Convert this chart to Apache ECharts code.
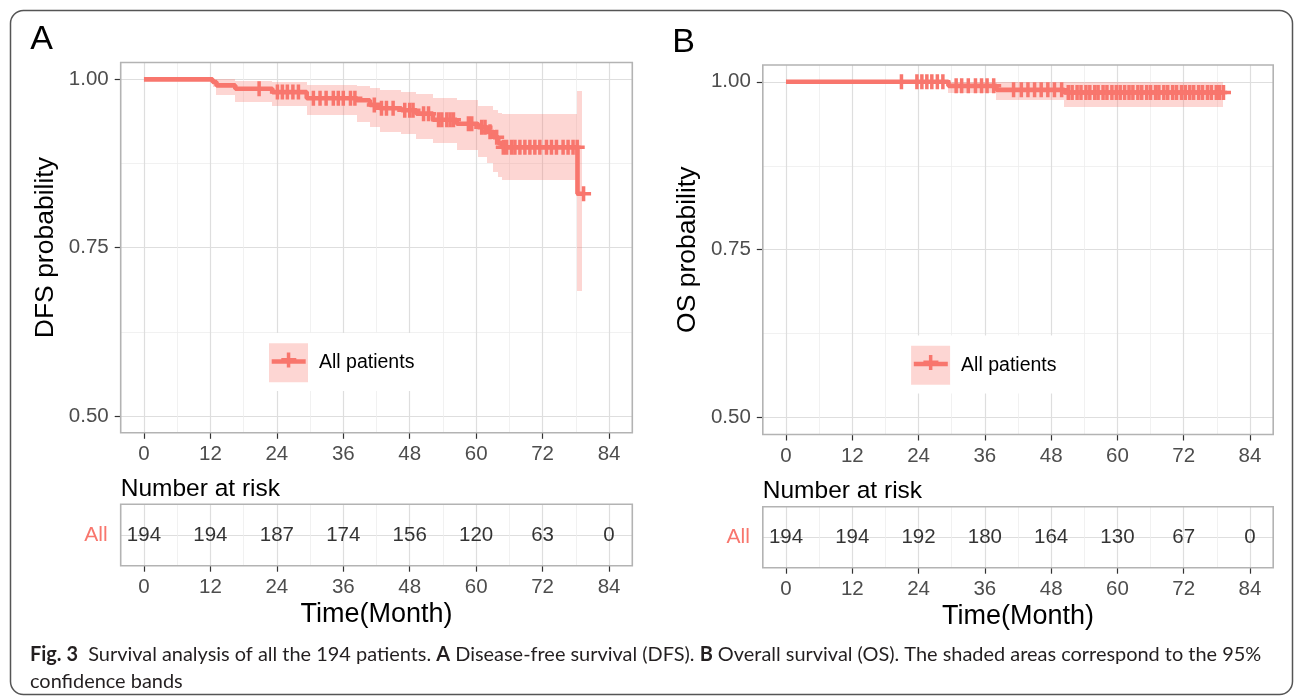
<!DOCTYPE html>
<html><head><meta charset="utf-8">
<script src="https://cdn.jsdelivr.net/npm/echarts@6/dist/echarts.min.js"></script>
<style>html,body{margin:0;padding:0;background:#fff;}#c{width:1295px;height:697px;}</style>
</head><body><div id="c"></div>
<script>
// ---------------- data ----------------
const riskTimes = [0, 12, 24, 36, 48, 60, 72, 84];
const dfsRisk = [194, 194, 187, 174, 156, 120, 63, 0];
const osRisk  = [194, 194, 192, 180, 164, 130, 67, 0];
const probTicks = [0.5, 0.75, 1.0];

// DFS Kaplan-Meier steps (time in months, survival, 95% CI)
const dfsTime  = [0, 12.4, 13.1, 16.5, 23.2, 29.4, 38.4, 40.8, 42.6, 46.5, 49.2, 52.2, 56.5, 60.3, 61.9, 63.1, 64.0, 64.7, 78.3];
const dfsSurv  = [1, 0.996, 0.991, 0.986, 0.981, 0.972, 0.969, 0.962, 0.957, 0.954, 0.949, 0.940, 0.934, 0.929, 0.922, 0.914, 0.905, 0.899, 0.830];
const dfsLower = [1, 0.988, 0.977, 0.967, 0.960, 0.947, 0.937, 0.929, 0.922, 0.919, 0.912, 0.905, 0.895, 0.885, 0.875, 0.862, 0.855, 0.851, 0.686];
const dfsUpper = [1, 1.000, 1.000, 0.997, 0.996, 0.992, 0.990, 0.987, 0.984, 0.981, 0.978, 0.972, 0.969, 0.961, 0.961, 0.955, 0.950, 0.948, 0.983];
const dfsCensor = [20.8, 24.1, 25.0, 25.9, 26.9, 27.9, 30.6, 31.8, 32.9, 34.2, 35.1, 36.0, 37.3, 38.1,
  41.6, 42.9, 43.8, 45.0, 47.1, 48.0, 48.6, 50.5, 51.4, 53.2, 53.8, 54.7, 55.3, 55.9, 58.6, 59.2,
  61.0, 61.6, 62.5, 63.7, 64.9, 65.5, 66.4, 67.0, 67.9, 68.8, 69.7, 70.6, 71.5, 72.7, 73.6, 74.5,
  75.7, 76.6, 77.5, 78.25, 79.4];
const dfsEnd = 79.4;
const dfsBandEnd = 79.1;

// OS Kaplan-Meier steps
const osTime  = [0, 29.4, 38.1, 50.4];
const osSurv  = [1, 0.994, 0.988, 0.984];
const osLower = [1, 0.983, 0.973, 0.963];
const osUpper = [1, 1.000, 1.000, 1.000];
const osCensor = [20.9, 23.7, 24.6, 25.5, 26.4, 27.4, 28.4, 30.8, 31.8, 33.0, 34.3, 35.4, 36.4, 37.6,
  41.2, 42.6, 43.8, 45.0, 46.2, 47.4, 48.6, 49.9, 51.1, 51.8, 52.7, 53.4, 54.3, 55.0, 55.9, 56.5,
  57.4, 58.1, 59.0, 59.8, 60.5, 61.3, 62.1, 62.8, 63.7, 64.4, 65.3, 66.0, 66.9, 67.5, 68.4, 69.1,
  70.0, 70.7, 71.6, 72.3, 73.1, 73.8, 74.7, 75.4, 76.3, 77.0, 77.9, 78.5, 79.2];
const osEnd = 79.2;
const osBandEnd = 79.2;

const strataLabel = 'All';
const legendLabel = 'All patients';
const riskTitle = 'Number at risk';
const xTitle = 'Time(Month)';

// ---------------- layout / style ----------------
const RED = '#F8766D';
const BAND = 'rgba(248,118,109,0.3)';
const X_MIN = -4.2, X_MAX = 88.2, Y_MIN = 0.475, Y_MAX = 1.025;
const FAM = 'Liberation Sans';
const FONT = '"Liberation Sans", Arial, sans-serif';
const panels = [
  {tag: 'A', ytitle: 'DFS probability', left: 120.7, right: 632.3, top: 62.5, bottom: 432.8, tTop: 504.3, tBottom: 565.7,
   times: dfsTime, surv: dfsSurv, lower: dfsLower, upper: dfsUpper, censor: dfsCensor, end: dfsEnd, bandEnd: dfsBandEnd, risk: dfsRisk},
  {tag: 'B', ytitle: 'OS probability', left: 762.8, right: 1273.2, top: 65.0, bottom: 434.5, tTop: 506.7, tBottom: 567.7,
   times: osTime, surv: osSurv, lower: osLower, upper: osUpper, censor: osCensor, end: osEnd, bandEnd: osBandEnd, risk: osRisk}
];
const PLUS = 'path://M0,5.75H15V9.25H0Z M5.75,0H9.25V15H5.75Z';

function survAt(times, surv, t) {
  let v = surv[0];
  for (let i = 0; i < times.length; i++) if (times[i] <= t) v = surv[i];
  return v;
}

const grids = [], xAxes = [], yAxes = [], series = [], graphics = [];
const majorSplit = {show: true, lineStyle: {color: '#DEDEDE', width: 1.2}};
const minorSplit = {show: true, lineStyle: {color: '#EDEDED', width: 0.8}};
const tickStyle = {show: true, length: 6, lineStyle: {color: '#333', width: 1.2}};
const labelStyle = {color: '#4D4D4D', fontSize: 20.5, fontFamily: FAM};

function hidden(gi) { return {type: 'value', gridIndex: gi, show: false, min: 0, max: 1}; }

panels.forEach((p, k) => {
  const base = k * 5;
  const w = p.right - p.left, h = p.bottom - p.top;
  const innerLeft = p.left + (0 - X_MIN) / (X_MAX - X_MIN) * w;
  const innerW = 84 / (X_MAX - X_MIN) * w;
  const yTop = p.top + (Y_MAX - 1) / (Y_MAX - Y_MIN) * h;
  const yH = 0.5 / (Y_MAX - Y_MIN) * h;
  const th = p.tBottom - p.tTop;
  grids.push({left: p.left, top: p.top, width: w, height: h, show: true, z: 5, borderColor: '#B3B3B3', borderWidth: 1.6, backgroundColor: 'rgba(0,0,0,0)', outerBoundsMode: 'none'});
  xAxes.push({type: 'value', gridIndex: base, show: false, min: X_MIN, max: X_MAX});
  yAxes.push({type: 'value', gridIndex: base, show: false, min: Y_MIN, max: Y_MAX});
  grids.push({left: innerLeft, top: p.top, width: innerW, height: h, show: false, outerBoundsMode: 'none'});
  xAxes.push({type: 'value', gridIndex: base + 1, min: riskTimes[0], max: riskTimes[riskTimes.length - 1], interval: 12,
    axisLine: {show: false}, axisTick: tickStyle, axisLabel: Object.assign({margin: 11}, labelStyle),
    splitLine: majorSplit, minorTick: {show: false, splitNumber: 2}, minorSplitLine: minorSplit});
  yAxes.push(hidden(base + 1));
  grids.push({left: p.left, top: yTop, width: w, height: yH, show: false, outerBoundsMode: 'none'});
  xAxes.push(hidden(base + 2));
  yAxes.push({type: 'value', gridIndex: base + 2, min: probTicks[0], max: probTicks[probTicks.length - 1], interval: 0.25,
    axisLine: {show: false}, axisTick: tickStyle,
    axisLabel: Object.assign({margin: 12, formatter: v => v.toFixed(2)}, labelStyle),
    splitLine: majorSplit, minorTick: {show: false, splitNumber: 2}, minorSplitLine: minorSplit});
  grids.push({left: p.left, top: p.tTop, width: w, height: th, show: true, z: 5, borderColor: '#B3B3B3', borderWidth: 1.6, backgroundColor: 'rgba(0,0,0,0)', outerBoundsMode: 'none'});
  xAxes.push({type: 'value', gridIndex: base + 3, show: false, min: X_MIN, max: X_MAX});
  yAxes.push({type: 'value', gridIndex: base + 3, min: 0, max: 2, interval: 1,
    axisLine: {show: false},
    axisTick: {show: true, customValues: [1], length: 6, lineStyle: {color: '#999', width: 1.2}},
    axisLabel: {customValues: [1], formatter: v => (v === 1 ? strataLabel : ''), color: RED, fontSize: 21, fontFamily: FAM, margin: 13},
    splitLine: majorSplit});
  grids.push({left: innerLeft, top: p.tTop, width: innerW, height: th, show: false, outerBoundsMode: 'none'});
  xAxes.push({type: 'value', gridIndex: base + 4, min: riskTimes[0], max: riskTimes[riskTimes.length - 1], interval: 12,
    axisLine: {show: false}, axisTick: tickStyle, axisLabel: Object.assign({margin: 11}, labelStyle),
    splitLine: majorSplit, minorTick: {show: false, splitNumber: 2}, minorSplitLine: minorSplit});
  yAxes.push(hidden(base + 4));

  const n = p.times.length;
  series.push({
    type: 'custom', xAxisIndex: base, yAxisIndex: base, silent: true, z: 1,
    dimensions: ['t0', 't1', 'lo', 'hi'], encode: {x: ['t0', 't1'], y: ['lo', 'hi']},
    data: p.times.map((t, i) => [t, i < n - 1 ? p.times[i + 1] : p.bandEnd, p.lower[i], p.upper[i]]),
    renderItem: function (params, api) {
      const a = api.coord([api.value(0), api.value(3)]);
      const b = api.coord([api.value(1), api.value(2)]);
      const x0 = Math.round(a[0]), x1 = Math.round(b[0]);
      const y0 = Math.round(a[1]), y1 = Math.round(b[1]);
      return {type: 'rect', shape: {x: x0, y: y0, width: x1 - x0, height: y1 - y0}, style: {fill: BAND}};
    }
  });
  series.push({
    type: 'line', xAxisIndex: base, yAxisIndex: base, step: 'end', symbol: 'none', silent: true, clip: false, z: 3,
    lineStyle: {color: RED, width: 4.6},
    data: p.times.map((t, i) => [t, p.surv[i]]).concat([[p.end, p.surv[n - 1]]])
  });
  series.push({
    type: 'scatter', xAxisIndex: base, yAxisIndex: base, silent: true, clip: false, z: 4,
    symbol: PLUS, symbolSize: 15, itemStyle: {color: RED, opacity: 1},
    data: p.censor.map(t => [t, survAt(p.times, p.surv, t)])
  });
  series.push({
    type: 'scatter', xAxisIndex: base + 3, yAxisIndex: base + 3, silent: true, z: 4,
    symbolSize: 1, itemStyle: {color: 'rgba(0,0,0,0)'},
    label: {show: true, position: 'inside', formatter: q => String(q.value[2]), color: '#000', fontSize: 20.5, fontFamily: FAM},
    data: riskTimes.map((t, i) => [t, 1, p.risk[i]])
  });

  const cx = (p.left + p.right) / 2;
  graphics.push({type: 'text', z: 100, x: p.left - 90.5, y: p.top - 22.5, style: {text: p.tag, font: '34px ' + FONT, fill: '#000', textAlign: 'left', textVerticalAlign: 'middle'}});
  graphics.push({type: 'text', z: 100, x: p.left - 75.5, y: (p.top + p.bottom) / 2, rotation: Math.PI / 2,
    style: {text: p.ytitle, font: '26.5px ' + FONT, fill: '#000', textAlign: 'center', textVerticalAlign: 'middle'}});
  graphics.push({type: 'text', z: 100, x: p.left, y: p.tTop - 15, style: {text: riskTitle, font: '24.5px ' + FONT, fill: '#000', textAlign: 'left', textVerticalAlign: 'middle'}});
  graphics.push({type: 'text', z: 100, x: cx, y: p.tBottom + 48.5, style: {text: xTitle, font: '27px ' + FONT, fill: '#000', textAlign: 'center', textVerticalAlign: 'middle'}});
  graphics.push({type: 'rect', z: 100, shape: {x: p.left + 133, y: p.top + 270.5, width: 178, height: 58}, style: {fill: '#fff'}});
  graphics.push({type: 'rect', z: 101, shape: {x: p.left + 148.3, y: p.top + 280.8, width: 39, height: 39}, style: {fill: BAND}});
  graphics.push({type: 'line', z: 102, shape: {x1: p.left + 151, y1: p.top + 299, x2: p.left + 185, y2: p.top + 299}, style: {stroke: RED, lineWidth: 4.6}});
  graphics.push({type: 'rect', z: 102, shape: {x: p.left + 166.1, y: p.top + 290, width: 3.5, height: 15}, style: {fill: RED}});
  graphics.push({type: 'rect', z: 102, shape: {x: p.left + 160.6, y: p.top + 295.5, width: 15, height: 3.5}, style: {fill: RED}});
  graphics.push({type: 'text', z: 102, x: p.left + 198.3, y: p.top + 300.5, style: {text: legendLabel, font: '19.5px ' + FONT, fill: '#000', textAlign: 'left', textVerticalAlign: 'middle'}});
});

graphics.push({type: 'rect', z: 0, shape: {x: 10.5, y: 10.5, width: 1282, height: 684, r: 13}, style: {fill: 'none', stroke: '#555', lineWidth: 1.5}});

const capParts = [['b', 'Fig. 3'], ['n', '  Survival analysis of all the 194 patients. '], ['b', 'A'], ['n', ' Disease-free survival (DFS). '],
  ['b', 'B'], ['n', ' Overall survival (OS). The shaded areas correspond to the 95%']];
const capLine2 = 'confidence bands';
const CAP_FONT = 'Lato, "Open Sans", sans-serif';
(function () {
  const ctx = document.createElement('canvas').getContext('2d');
  let wsum = 0;
  capParts.forEach(([k, s]) => { ctx.font = (k === 'b' ? 'bold ' : '') + '20px ' + CAP_FONT; wsum += ctx.measureText(s).width; });
  const size = Math.min(22, 20 * 1232 / wsum);
  const text = capParts.map(([k, s]) => k === 'b' ? '{b|' + s + '}' : '{n|' + s + '}').join('') + '\n{n|' + capLine2 + '}';
  graphics.push({type: 'text', z: 100, x: 30, y: 641, style: {
    text: text, textAlign: 'left', textVerticalAlign: 'top',
    rich: {b: {fontWeight: 'bold', fontSize: size, fontFamily: CAP_FONT, fill: '#231F20', lineHeight: 27},
           n: {fontSize: size, fontFamily: CAP_FONT, fill: '#231F20', lineHeight: 27}}
  }});
})();

const chart = echarts.init(document.getElementById('c'), null, {renderer: 'canvas'});
chart.setOption({
  animation: false,
  backgroundColor: '#fff',
  grid: grids, xAxis: xAxes, yAxis: yAxes, series: series,
  graphic: {elements: graphics}
});
</script></body></html>
